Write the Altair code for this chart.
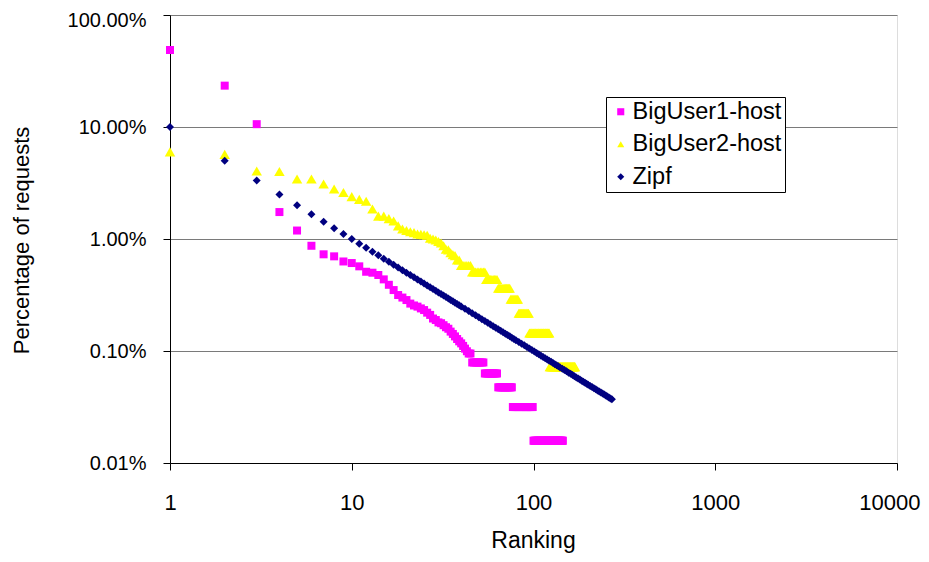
import altair as alt
import pandas as pd

FONT = "Liberation Sans"

series_names = ["BigUser1-host", "BigUser2-host", "Zipf"]
series_colors = ["#FF00FF", "#FFFF00", "#000080"]
series_shapes = ["square", "triangle-up", "diamond"]
series_sizes = [64, 110, 64]

x_ticks = [1, 10, 100, 1000, 10000]
y_ticks = [0.01, 0.1, 1, 10, 100]

# BigUser1-host: percentage of requests by rank (1..145)
big1_rank = list(range(1, 146))
big1_pct = [
    48.7, 23.4, 10.6, 1.74, 1.19, 0.87, 0.73, 0.70, 0.63, 0.61,
    0.57, 0.51, 0.50, 0.477, 0.436, 0.39, 0.35, 0.316, 0.30, 0.285,
    0.265, 0.255, 0.249, 0.24, 0.232, 0.22, 0.21, 0.195, 0.189, 0.18,
    0.177, 0.17, 0.163, 0.158, 0.149, 0.142, 0.135, 0.128, 0.122, 0.117,
    0.111, 0.105, 0.0995, 0.095, 0.095,
    0.079, 0.079, 0.079, 0.079, 0.079, 0.079, 0.079, 0.079,
    0.063, 0.063, 0.063, 0.063, 0.063, 0.063, 0.063, 0.063, 0.063, 0.063,
    0.0474, 0.0474, 0.0474, 0.0474, 0.0474, 0.0474, 0.0474, 0.0474, 0.0474,
    0.0474, 0.0474, 0.0474, 0.0474,
    0.0316, 0.0316, 0.0316, 0.0316, 0.0316, 0.0316, 0.0316, 0.0316, 0.0316,
    0.0316, 0.0316, 0.0316, 0.0316, 0.0316, 0.0316, 0.0316, 0.0316, 0.0316,
    0.0316, 0.0316, 0.0316, 0.0316, 0.0316,
    0.0158, 0.0158, 0.0158, 0.0158, 0.0158, 0.0158, 0.0158, 0.0158, 0.0158,
    0.0158, 0.0158, 0.0158, 0.0158, 0.0158, 0.0158, 0.0158, 0.0158, 0.0158,
    0.0158, 0.0158, 0.0158, 0.0158, 0.0158, 0.0158, 0.0158, 0.0158, 0.0158,
    0.0158, 0.0158, 0.0158, 0.0158, 0.0158, 0.0158, 0.0158, 0.0158, 0.0158,
    0.0158, 0.0158, 0.0158, 0.0158, 0.0158, 0.0158, 0.0158, 0.0158, 0.0158,
    0.0158,
]

# BigUser2-host: percentage of requests by rank (1..169)
big2_rank = list(range(1, 170))
big2_pct = [
    6.0, 5.7, 4.05, 4.0, 3.43, 3.43, 3.1, 2.8, 2.6, 2.39,
    2.26, 2.17, 1.85, 1.6, 1.6, 1.52, 1.45, 1.31, 1.23, 1.19,
    1.16, 1.14, 1.11, 1.10, 1.09, 1.08, 1.015, 1.0, 0.98, 0.95,
    0.92, 0.87, 0.81, 0.80, 0.755, 0.725, 0.71, 0.65, 0.65,
    0.58, 0.58, 0.58, 0.58, 0.58, 0.58,
    0.507, 0.507, 0.507, 0.507, 0.507, 0.507, 0.507, 0.507, 0.507,
    0.435, 0.435, 0.435, 0.435, 0.435, 0.435, 0.435, 0.435, 0.435,
    0.363, 0.363, 0.363, 0.363, 0.363, 0.363, 0.363, 0.363, 0.363, 0.363, 0.363,
    0.29, 0.29, 0.29, 0.29, 0.29, 0.29, 0.29, 0.29,
    0.217, 0.217, 0.217, 0.217, 0.217, 0.217, 0.217, 0.217, 0.217, 0.217,
    0.217, 0.217,
    0.145, 0.145, 0.145, 0.145, 0.145, 0.145, 0.145, 0.145, 0.145, 0.145,
    0.145, 0.145, 0.145, 0.145, 0.145, 0.145, 0.145, 0.145, 0.145, 0.145,
    0.145, 0.145, 0.145, 0.145, 0.145, 0.145, 0.145, 0.145,
    0.0725, 0.0725, 0.0725, 0.0725, 0.0725, 0.0725, 0.0725, 0.0725, 0.0725,
    0.0725, 0.0725, 0.0725, 0.0725, 0.0725, 0.0725, 0.0725, 0.0725, 0.0725,
    0.0725, 0.0725, 0.0725, 0.0725, 0.0725, 0.0725, 0.0725, 0.0725, 0.0725,
    0.0725, 0.0725, 0.0725, 0.0725, 0.0725, 0.0725, 0.0725, 0.0725, 0.0725,
    0.0725, 0.0725, 0.0725, 0.0725, 0.0725, 0.0725, 0.0725, 0.0725, 0.0725,
    0.0725, 0.0725,
]

# Zipf reference series (read from the plotted diamonds)
zipf_rank = [
    1, 2, 3, 4, 5, 6, 7, 8, 9, 10, 11, 12, 13, 14, 15, 16, 17, 18, 19, 20,
    21, 22, 23, 24, 25, 26, 27, 28, 29, 30, 31, 32, 33, 34, 35, 36, 37, 38, 39, 40,
    42, 44, 46, 48, 50, 52, 54, 56, 58, 60, 62, 64, 66, 68, 70, 72, 74, 76, 78, 80,
    83, 86, 89, 92, 95, 98, 101, 104, 107, 110, 113, 116, 119, 122, 125, 128, 131,
    134, 137, 140,
    144, 148, 152, 156, 160, 164, 168, 172, 176, 180, 184, 188, 192, 196, 200,
    205, 210, 215, 220, 225, 230, 235, 240, 245, 250, 255, 260, 265, 270,
]
zipf_pct = [
    10, 5, 3.333, 2.5, 2, 1.667, 1.429, 1.25, 1.111, 1,
    0.9091, 0.8333, 0.7692, 0.7143, 0.6667, 0.625, 0.5882, 0.5556, 0.5263, 0.5,
    0.4762, 0.4545, 0.4348, 0.4167, 0.4, 0.3846, 0.3704, 0.3571, 0.3448, 0.3333,
    0.3226, 0.3125, 0.3030, 0.2941, 0.2857, 0.2778, 0.2703, 0.2632, 0.2564, 0.25,
    0.2381, 0.2273, 0.2174, 0.2083, 0.2, 0.1923, 0.1852, 0.1786, 0.1724, 0.1667,
    0.1613, 0.1563, 0.1515, 0.1471, 0.1429, 0.1389, 0.1351, 0.1316, 0.1282, 0.125,
    0.1205, 0.1163, 0.1124, 0.1087, 0.1053, 0.1020, 0.0990, 0.0962, 0.0935, 0.0909,
    0.0885, 0.0862, 0.0840, 0.0820, 0.08, 0.0781, 0.0763, 0.0746, 0.0730, 0.0714,
    0.0694, 0.0676, 0.0658, 0.0641, 0.0625, 0.0610, 0.0595, 0.0581, 0.0568, 0.0556,
    0.0543, 0.0532, 0.0521, 0.0510, 0.05,
    0.0488, 0.0476, 0.0465, 0.0455, 0.0444, 0.0435, 0.0426, 0.0417, 0.0408, 0.04,
    0.0392, 0.0385, 0.0377, 0.0370,
]

rows = []
for name, ranks, vals in [
    (series_names[0], big1_rank, big1_pct),
    (series_names[1], big2_rank, big2_pct),
    (series_names[2], zipf_rank, zipf_pct),
]:
    for r, v in zip(ranks, vals):
        rows.append({"rank": r, "pct": v, "series": name})
df = pd.DataFrame(rows)

legend = alt.Legend(
    title=None,
    orient="none",
    legendX=436,
    legendY=82,
    fillColor="white",
    strokeColor="black",
    padding=3,
    cornerRadius=0,
    labelFont=FONT,
    labelFontSize=23.5,
    labelColor="black",
    labelLimit=300,
    symbolSize=50,
    symbolOffset=0,
    labelOffset=0,
    rowPadding=7.5,
    symbolStrokeWidth=0,
)

base = alt.Chart(df).encode(
    x=alt.X(
        "rank:Q",
        scale=alt.Scale(type="log", domain=[1, 10000]),
        axis=alt.Axis(
            values=x_ticks,
            format="d",
            title="Ranking",
            grid=False,
            labelFlush=False,
            labelOverlap=False,
            labelFont=FONT,
            labelFontSize=22,
            labelColor="black",
            labelBaseline="alphabetic",
            labelPadding=39,
            labelAlign=alt.condition(
                "datum.value == 10000", alt.value("right"), alt.value("center")
            ),
            labelOffset=alt.condition(
                "datum.value == 10000", alt.value(23), alt.value(0)
            ),
            tickSize=7,
            tickColor="black",
            domainColor="black",
            titleFont=FONT,
            titleFontSize=23,
            titleFontWeight="normal",
            titleColor="black",
            titleBaseline="alphabetic",
            titleX=363,
            titleY=84,
            titleAlign="center",
        ),
    ),
    y=alt.Y(
        "pct:Q",
        scale=alt.Scale(type="log", domain=[0.01, 100]),
        axis=alt.Axis(
            values=y_ticks,
            labelExpr="format(datum.value, '.2f') + '%'",
            title="Percentage of requests",
            grid=True,
            gridColor="#7a7a7a",
            gridWidth=1,
            labelFlush=False,
            labelOverlap=False,
            labelFont=FONT,
            labelFontSize=20,
            labelColor="black",
            labelPadding=17,
            labelOffset=alt.condition("datum.value == 100", alt.value(5), alt.value(0)),
            tickSize=7,
            tickColor="black",
            domainColor="black",
            titleFont=FONT,
            titleFontSize=22,
            titleFontWeight="normal",
            titleColor="black",
            titleAngle=270,
            titleBaseline="alphabetic",
            titleAlign="center",
            titleX=-142,
            titleY=225,
        ),
    ),
    color=alt.Color(
        "series:N",
        scale=alt.Scale(domain=series_names, range=series_colors),
        legend=legend,
    ),
    shape=alt.Shape(
        "series:N",
        scale=alt.Scale(domain=series_names, range=series_shapes),
        legend=legend,
    ),
)

layers = [
    base.transform_filter(alt.datum.series == name).mark_point(
        filled=True, opacity=1, strokeWidth=0, size=sz
    )
    for name, sz in zip(series_names, series_sizes)
]

chart = (
    alt.layer(*layers)
    .properties(
        width=727,
        height=448,
        autosize=alt.AutoSizeParams(type="none"),
        padding={"left": 162, "top": 7, "right": 24, "bottom": 91},
    )
    .configure_view(stroke=None)
    .configure(background="white")
)

chart.save("out.html", embed_options={"renderer": "svg", "actions": False})
